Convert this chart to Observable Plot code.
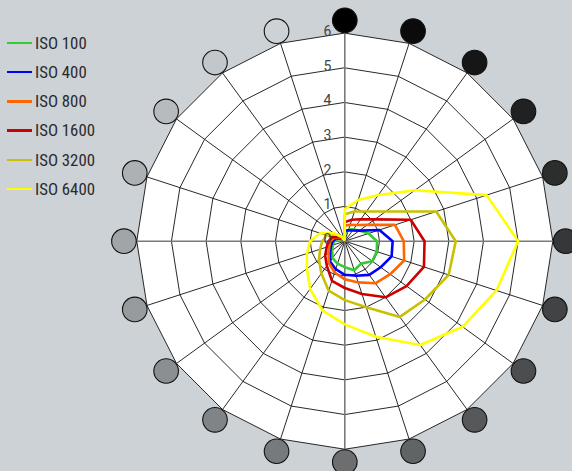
<!DOCTYPE html>
<html>
<head>
<meta charset="utf-8">
<script src="https://cdn.jsdelivr.net/npm/d3@7"></script>
<script src="https://cdn.jsdelivr.net/npm/@observablehq/plot@0.6"></script>
<style>
  html, body { margin: 0; padding: 0; background: #cdd2d6; }
  #wrap { position: relative; width: 572px; height: 471px; overflow: hidden; }
  #legend { position: absolute; left: 0; top: 0; font-family: "Roboto Condensed", "Liberation Sans Narrow", "DejaVu Sans Condensed", Roboto, sans-serif; font-size: 16.8px; color: #2a2a2a; }
  .item { position: absolute; left: 0; height: 20px; white-space: nowrap; }
  .item span.sw { position: absolute; left: 7px; width: 25px; height: 2.6px; top: 9px; }
  .item span.lb { position: absolute; left: 35px; top: 0; line-height: 20px; }
</style>
</head>
<body>
<div id="wrap"><div id="legend"></div></div>
<script>
// ---- data ----
const angles = [0, 18, 36, 54, 72, 90, 108, 126, 144, 162, 180, 198, 216, 234, 252, 270, 288, 306, 324, 342];
const levels = [1, 2, 3, 4, 5, 6];
const tickLabels = ["0", "1", "2", "3", "4", "5", "6"];
const seriesNames = ["ISO 100", "ISO 400", "ISO 800", "ISO 1600", "ISO 3200", "ISO 6400"];
const seriesColors = ["#33cc33", "#0000ff", "#ff6600", "#cc0000", "#c8c000", "#ffff00"];
const iso100  = [0.22, 0.35, 0.42, 0.52, 0.72, 0.93, 0.97, 0.98, 0.80, 0.88, 0.75, 0.68, 0.60, 0.45, 0.36, 0.30, 0.20, 0.10, 0.05, 0.02];
const iso400  = [0.30, 0.33, 0.38, 0.52, 1.05, 1.38, 1.42, 1.28, 1.20, 1.05, 0.97, 0.85, 0.72, 0.52, 0.42, 0.35, 0.25, 0.12, 0.06, 0.02];
const iso800  = [0.45, 0.50, 0.58, 0.80, 1.52, 1.70, 1.80, 1.62, 1.50, 1.25, 1.10, 0.95, 0.78, 0.58, 0.47, 0.42, 0.32, 0.16, 0.08, 0.03];
const iso1600 = [0.55, 0.65, 0.78, 1.07, 2.00, 2.30, 2.40, 2.20, 2.00, 1.60, 1.35, 1.20, 0.88, 0.70, 0.55, 0.47, 0.38, 0.20, 0.10, 0.04];
const iso3200 = [0.78, 0.90, 1.06, 1.46, 2.77, 3.20, 3.15, 2.86, 2.70, 2.00, 1.70, 1.50, 1.15, 0.92, 0.75, 0.65, 0.55, 0.35, 0.18, 0.05];
const iso6400 = [0.92, 1.25, 1.65, 2.50, 4.30, 5.00, 4.60, 4.20, 3.70, 2.90, 2.40, 2.10, 1.70, 1.35, 1.15, 1.00, 0.75, 0.40, 0.15, 0.02];
const seriesValues = [iso100, iso400, iso800, iso1600, iso3200, iso6400];
const patchIndex = d3.range(angles.length);

// ---- geometry helpers ----
const W = 572, H = 471, cx = 344.3, cy = 240.7, unit = 34.67;
const rad = a => a * Math.PI / 180;
const px = (a, r) => r * Math.sin(rad(a));
const py = (a, r) => r * Math.cos(rad(a));
const rMax = levels[levels.length - 1];
const rPatch = 6.37;

const ringData = levels.flatMap(l => angles.map(a => ({l, a})));
const spokes = angles.filter(a => a % 90 !== 0);
const axes = angles.filter(a => a % 90 === 0);
const lineData = seriesNames.flatMap((s, i) => angles.map((a, j) => ({s, a, v: seriesValues[i][j]})));
const labelData = tickLabels.map((t, i) => ({t, v: i}));

const chart = Plot.plot({
  width: W, height: H, margin: 0,
  x: {domain: [-cx / unit, (W - cx) / unit], axis: null},
  y: {domain: [(cy - H) / unit, cy / unit], axis: null},
  color: {domain: seriesNames, range: seriesColors},
  style: {background: "transparent", overflow: "visible"},
  marks: [
    Plot.line(angles, {x: a => px(a, rMax), y: a => py(a, rMax), curve: "linear-closed", fill: "white", stroke: "none"}),
    Plot.line(ringData, {x: d => px(d.a, d.l), y: d => py(d.a, d.l), z: "l", curve: "linear-closed", stroke: "#111", strokeWidth: 0.9}),
    Plot.link(spokes, {x1: 0, y1: 0, x2: a => px(a, rMax), y2: a => py(a, rMax), stroke: "#111", strokeWidth: 0.9}),
    Plot.link(axes, {x1: 0, y1: 0, x2: a => px(a, rMax), y2: a => py(a, rMax), stroke: "#7a7a7a", strokeWidth: 1.6}),
    Plot.line(lineData, {x: d => px(d.a, d.v), y: d => py(d.a, d.v), z: "s", stroke: "s", curve: "linear-closed", strokeWidth: 2.6, strokeLinejoin: "miter"}),
    Plot.text(labelData, {x: -0.5, y: d => d.v + 0.05, text: "t", fill: "#444", fontSize: 14, fontFamily: "Roboto, 'Liberation Sans', sans-serif"}),
    Plot.dot(patchIndex, {x: i => px(angles[i], rPatch), y: i => py(angles[i], rPatch), r: 12.3, fill: "black", fillOpacity: i => 1 - i / (angles.length - 1), stroke: "#111", strokeWidth: 1.1})
  ]
});
document.getElementById("wrap").prepend(chart);
chart.style.position = "absolute"; chart.style.left = "0"; chart.style.top = "0";

const legend = document.getElementById("legend");
seriesNames.forEach((s, i) => {
  const it = document.createElement("div");
  it.className = "item";
  it.style.top = (42.7 + i * 29.2 - 10) + "px";
  it.innerHTML = `<span class="sw" style="background:${seriesColors[i]}"></span><span class="lb">${s}</span>`;
  legend.appendChild(it);
});
</script>
</body>
</html>
